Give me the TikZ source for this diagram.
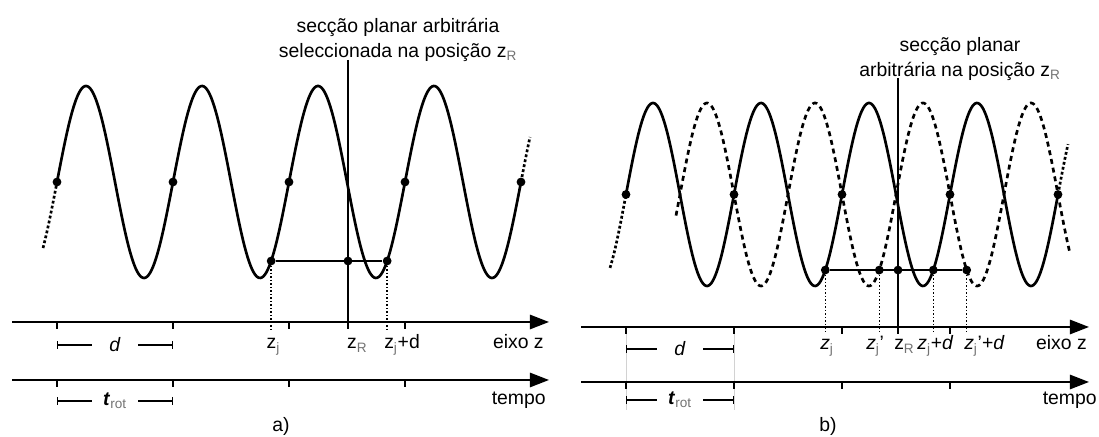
\documentclass[tikz,border=0pt]{standalone}
\usepackage{fontspec}
\setmainfont{Liberation Sans}
\usepackage{tikz}
\usetikzlibrary{arrows.meta, positioning}
\newcommand{\subind}[1]{\textsubscript{\textcolor{black!55}{#1}}}

\begin{document}
\begin{tikzpicture}[
  curva/.style={line width=1.9pt, line join=round},
  curvaext/.style={line width=1.9pt, dash pattern=on 2pt off 1.6pt},
  curvadesl/.style={line width=1.9pt, dash pattern=on 3.5pt off 2.8pt},
  eixo/.style={line width=1.4pt, -{Triangle[length=4.8mm, width=3.6mm]}},
  marca/.style={line width=1.4pt},
  linha/.style={line width=1.2pt},
  guia/.style={line width=1.1pt, dash pattern=on 1.1pt off 1.4pt},
  cota/.style={line width=1pt, {Bar[width=2mm]}-{Bar[width=2mm]}},
  fundo/.style={line width=0.6pt, color=gray!35},
  ponto/.style={circle, fill=black, inner sep=0pt, minimum size=2.2mm},
  rot/.style={font=\fontsize{13.8}{17}\selectfont, inner sep=0pt},
  titulo/.style={align=center, font=\fontsize{13.8}{18}\selectfont, inner sep=0pt},
  lcota/.style={rot, fill=white, minimum width=11.5mm, minimum height=5mm}
]
\path[use as bounding box, fill=white] (0,0) rectangle (27.475,10.925);

%% ─── Painel a): plano seleccionado ──────────────────────────
\node[titulo] (tA) at (9.95,9.925)
    {secção planar arbitrária\\seleccionada na posição z\subind{R}};

\draw[curvaext] plot[domain=1.075:1.425, samples=20]
    (\x,{6.375+2.4*sin(360*(\x-1.425)/2.9)});
\draw[curva] plot[domain=1.425:13.025, samples=320]
    (\x,{6.375+2.4*sin(360*(\x-1.425)/2.9)});
\draw[curvaext] plot[domain=13.025:13.25, samples=15]
    (\x,{6.375+2.4*sin(360*(\x-1.425)/2.9)});

\node[ponto] (a1) at (1.425,6.375) {};
\node[ponto] (a2) at (4.325,6.375) {};
\node[ponto] (a3) at (7.225,6.375) {};
\node[ponto] (a4) at (10.125,6.375) {};
\node[ponto] (a5) at (13.025,6.375) {};

\coordinate (aRtopo) at (8.7,9.425);
\coordinate (aRbase) at (8.7,2.7);
\draw[linha] (aRtopo) -- (aRbase);

\node[ponto] (aZj)  at (6.779,4.40) {};
\node[ponto] (aZr)  at (8.7,4.40) {};
\node[ponto] (aZjd) at (9.679,4.40) {};
\draw[linha] (aZj) -- (aZjd);
\coordinate (aGj)  at (6.779,2.7);
\coordinate (aGjd) at (9.679,2.7);
\draw[guia] (aZj) -- (aGj);
\draw[guia] (aZjd) -- (aGjd);

\coordinate (aEz0) at (0.3,2.875);
\coordinate (aEz1) at (13.725,2.875);
\coordinate (aEt0) at (0.3,1.425);
\coordinate (aEt1) at (13.725,1.425);
\draw[eixo] (aEz0) -- (aEz1);
\draw[eixo] (aEt0) -- (aEt1);
\draw[marca] (1.425,2.875) -- ++(0,-0.175) (4.325,2.875) -- ++(0,-0.175)
             (7.225,2.875) -- ++(0,-0.175) (10.125,2.875) -- ++(0,-0.175);
\draw[marca] (1.425,1.425) -- ++(0,-0.175) (4.325,1.425) -- ++(0,-0.175)
             (7.225,1.425) -- ++(0,-0.175) (10.125,1.425) -- ++(0,-0.175);

\coordinate (aD0) at (1.425,2.3);
\coordinate (aD1) at (4.325,2.3);
\coordinate (aT0) at (1.425,0.9);
\coordinate (aT1) at (4.325,0.9);
\draw[cota] (aD0) -- node[lcota] (aLd) {\textit{d}} (aD1);
\draw[cota] (aT0) -- node[lcota] (aLt) {\textit{\textbf{t}}\subind{rot}} (aT1);

\node[rot, anchor=base west] (aLzj)  at (6.66,2.2) {z\subind{j}};
\node[rot, anchor=base west] (aLzr)  at (8.67,2.2) {z\subind{R}};
\node[rot, anchor=base west] (aLzjd) at (9.6,2.2)  {z\subind{j}+d};
\node[rot, anchor=base east] (aLez)  at (13.6,2.2) {eixo z};
\node[rot, anchor=base east] (aLtp)  at (13.65,0.8) {tempo};
\node[rot] (aLab) at (7.025,0.27) {a)};

%% ─── Painel b): duas fases ─────────────────────────────────
\draw[fundo] (15.65,2.75) -- (15.65,0.675);
\draw[fundo] (18.35,2.75) -- (18.35,0.675);

\node[titulo] (tB) at (24.0,9.45)
    {secção planar\\arbitrária na posição z\subind{R}};

\draw[curvaext] plot[domain=15.25:15.65, samples=20]
    (\x,{6.0625+2.2875*sin(360*(\x-15.65)/2.7)});
\draw[curva] plot[domain=15.65:26.45, samples=320]
    (\x,{6.0625+2.2875*sin(360*(\x-15.65)/2.7)});
\draw[curvaext] plot[domain=26.45:26.7, samples=15]
    (\x,{6.0625+2.2875*sin(360*(\x-15.65)/2.7)});
\draw[curvadesl] plot[domain=16.9:26.75, samples=320]
    (\x,{6.0625-2.2875*sin(360*(\x-15.65)/2.7)});

\node[ponto] (b1) at (15.65,6.0625) {};
\node[ponto] (b2) at (18.35,6.0625) {};
\node[ponto] (b3) at (21.05,6.0625) {};
\node[ponto] (b4) at (23.75,6.0625) {};
\node[ponto] (b5) at (26.45,6.0625) {};

\coordinate (bRtopo) at (22.45,8.975);
\coordinate (bRbase) at (22.45,2.575);
\draw[linha] (bRtopo) -- (bRbase);

\node[ponto] (bZj)   at (20.6325,4.174) {};
\node[ponto] (bZjl)  at (21.9825,4.174) {};
\node[ponto] (bZr)   at (22.45,4.174) {};
\node[ponto] (bZjd)  at (23.3325,4.174) {};
\node[ponto] (bZjld) at (24.1675,4.174) {};
\draw[linha] (bZj) -- (bZjld);
\coordinate (bGj)   at (20.6325,2.6);
\coordinate (bGjl)  at (21.9825,2.6);
\coordinate (bGjd)  at (23.3325,2.6);
\coordinate (bGjld) at (24.1675,2.6);
\draw[guia] (bZj) -- (bGj);
\draw[guia] (bZjl) -- (bGjl);
\draw[guia] (bZjd) -- (bGjd);
\draw[guia] (bZjld) -- (bGjld);

\coordinate (bEz0) at (14.525,2.75);
\coordinate (bEz1) at (27.225,2.75);
\coordinate (bEt0) at (14.525,1.375);
\coordinate (bEt1) at (27.225,1.375);
\draw[eixo] (bEz0) -- (bEz1);
\draw[eixo] (bEt0) -- (bEt1);
\draw[marca] (15.65,2.75) -- ++(0,-0.175) (18.35,2.75) -- ++(0,-0.175)
             (21.05,2.75) -- ++(0,-0.175) (23.75,2.75) -- ++(0,-0.175);
\draw[marca] (15.65,1.375) -- ++(0,-0.175) (18.35,1.375) -- ++(0,-0.175)
             (21.05,1.375) -- ++(0,-0.175) (23.75,1.375) -- ++(0,-0.175);

\coordinate (bD0) at (15.65,2.2);
\coordinate (bD1) at (18.35,2.2);
\coordinate (bT0) at (15.65,0.925);
\coordinate (bT1) at (18.35,0.925);
\draw[cota] (bD0) -- node[lcota] (bLd) {\textit{d}} (bD1);
\draw[cota] (bT0) -- node[lcota] (bLt) {\textit{\textbf{t}}\subind{rot}} (bT1);

\node[rot, anchor=base west] (bLzj)   at (20.5,2.175)  {\textit{z}\subind{j}};
\node[rot, anchor=base west] (bLzjl)  at (21.65,2.175) {\textit{z}\subind{j}'};
\node[rot, anchor=base west] (bLzr)   at (22.35,2.175) {z\subind{R}};
\node[rot, anchor=base west] (bLzjd)  at (22.93,2.175) {\textit{z}\subind{j}+\textit{d}};
\node[rot, anchor=base west] (bLzjld) at (24.1,2.175)  {\textit{z}\subind{j}'+\textit{d}};
\node[rot, anchor=base east] (bLez)   at (27.175,2.175) {eixo z};
\node[rot, anchor=base east] (bLtp)   at (27.425,0.8)  {tempo};
\node[rot] (bLab) at (20.7,0.27) {b)};

\end{tikzpicture}
\end{document}
